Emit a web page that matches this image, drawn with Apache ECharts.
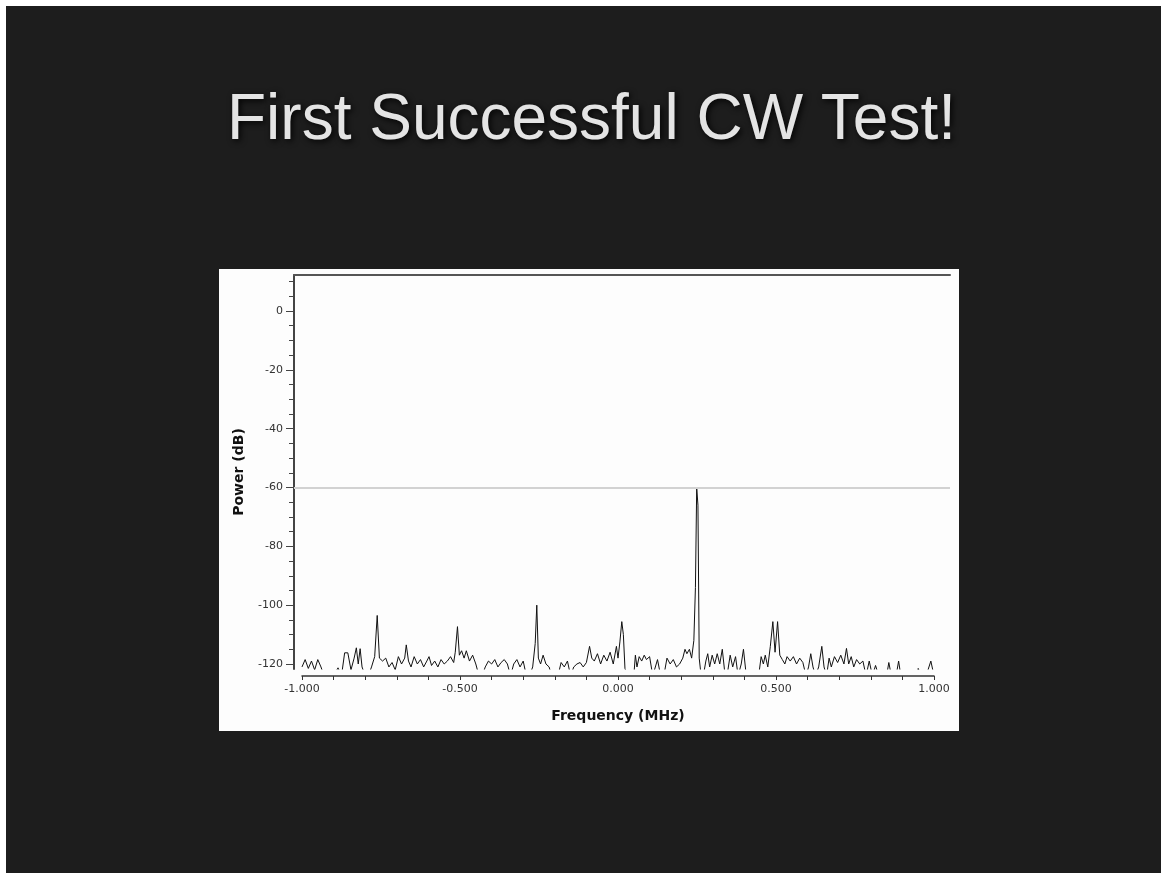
<!DOCTYPE html>
<html>
<head>
<meta charset="utf-8">
<script src="https://cdn.jsdelivr.net/npm/echarts@6.0.0/dist/echarts.min.js"></script>
<style>
    html, body { margin: 0; padding: 0; background: #fff; }
    #container { width: 1161px; height: 873px; }
</style>
</head>
<body>
<div id="container"></div>
<script>
// spectrum, frequency in MHz / power in dB
var freqMHz = [
    -1.00, -0.99, -0.98, -0.97, -0.96, -0.95, -0.94, -0.93, -0.92, -0.91,
    -0.90, -0.886, -0.875, -0.865, -0.855, -0.85, -0.845, -0.835, -0.828, -0.822,
    -0.816, -0.81, -0.80, -0.79, -0.78, -0.77, -0.762, -0.755, -0.745, -0.735,
    -0.725, -0.715, -0.705, -0.695, -0.685, -0.675, -0.67, -0.663, -0.655, -0.645,
    -0.635, -0.625, -0.615, -0.605, -0.598, -0.59, -0.58, -0.57, -0.56, -0.55,
    -0.54, -0.53, -0.52, -0.515, -0.508, -0.502, -0.495, -0.487, -0.48, -0.47,
    -0.46, -0.45, -0.44, -0.43, -0.42, -0.41, -0.40, -0.39, -0.38, -0.37,
    -0.36, -0.35, -0.34, -0.33, -0.32, -0.31, -0.30, -0.29, -0.28, -0.27,
    -0.262, -0.257, -0.252, -0.245, -0.237, -0.228, -0.218, -0.21, -0.20, -0.19,
    -0.18, -0.17, -0.16, -0.15, -0.14, -0.13, -0.12, -0.11, -0.10, -0.09,
    -0.083, -0.075, -0.065, -0.055, -0.045, -0.035, -0.025, -0.015, -0.005, 0.000,
    0.006, 0.012, 0.017, 0.022, 0.03, 0.04, 0.05, 0.055, 0.06, 0.067,
    0.075, 0.083, 0.09, 0.10, 0.11, 0.125, 0.135, 0.145, 0.155, 0.165,
    0.175, 0.185, 0.195, 0.205, 0.212, 0.218, 0.226, 0.233, 0.24, 0.245,
    0.249, 0.253, 0.257, 0.263, 0.27, 0.278, 0.284, 0.29, 0.298, 0.306,
    0.314, 0.322, 0.33, 0.337, 0.345, 0.355, 0.363, 0.372, 0.38, 0.39,
    0.397, 0.404, 0.415, 0.43, 0.445, 0.453, 0.46, 0.466, 0.474, 0.482,
    0.49, 0.497, 0.505, 0.512, 0.52, 0.528, 0.535, 0.545, 0.555, 0.565,
    0.575, 0.585, 0.595, 0.603, 0.61, 0.617, 0.625, 0.635, 0.645, 0.652,
    0.66, 0.668, 0.675, 0.685, 0.695, 0.705, 0.715, 0.723, 0.73, 0.738,
    0.746, 0.755, 0.765, 0.775, 0.785, 0.795, 0.805, 0.815, 0.825, 0.84,
    0.85, 0.857, 0.865, 0.88, 0.888, 0.895, 0.91, 0.93, 0.945, 0.95,
    0.96, 0.975, 0.99, 1.00
];
var powerDb = [
    -121, -118.5, -121.5, -119, -122, -118.5, -121, -124, -124, -124,
    -124, -121.3, -124, -116.2, -116.2, -116.5, -122, -118, -114.5, -120,
    -114.8, -121, -124, -124, -121, -117.5, -103.5, -118, -119, -118,
    -121, -119.5, -122, -117.5, -120, -118, -113.5, -119, -121, -117.5,
    -120, -118.5, -121, -119, -117.5, -120.5, -119, -121, -118.5, -120,
    -119, -117.5, -119.5, -116, -107.3, -117, -115.5, -118, -115.5, -119,
    -117, -120, -124, -124, -121, -119, -120, -118.5, -121, -119.5,
    -118.5, -120, -124, -120, -118.5, -121, -119, -124, -124, -121,
    -113, -100, -118, -120, -117, -120, -121, -124, -124, -124,
    -119.5, -121, -119, -124, -121, -120, -119.5, -121, -119.5, -114,
    -118, -119, -116.5, -120, -117, -119, -116, -120, -114, -118,
    -112.5, -105.6, -110, -121.5, -124, -124, -124, -117, -121, -117.5,
    -119, -117, -118.5, -117.5, -124, -118.5, -124, -124, -118, -120,
    -118.5, -121, -120, -118, -115, -116.5, -115, -118, -112, -94,
    -60, -66, -118, -124, -124, -119, -116.5, -121, -117, -120,
    -116.5, -120, -115, -122, -124, -117, -121, -117.5, -124, -120,
    -115, -122, -124, -124, -124, -117.5, -120, -117, -121, -114,
    -105.6, -116, -105.6, -117, -118.5, -120, -117.5, -119, -117.5, -120,
    -118, -119.5, -124, -121, -116.5, -121, -124, -121, -114, -121,
    -124, -118, -121, -117.5, -119.5, -117, -120, -114.7, -120, -117.5,
    -121, -118.5, -120, -119, -124, -119, -124, -120.5, -124, -124,
    -124, -119.5, -124, -124, -119, -124, -124, -124, -124, -121.5,
    -124, -124, -119, -124
];

var xLabelValues = [-1, -0.5, 0, 0.5, 1];
var xTickLabels = ['-1.000', '-0.500', '0.000', '0.500', '1.000'];
var xMinorTicks = [-1, -0.9, -0.8, -0.7, -0.6, -0.5, -0.4, -0.3, -0.2, -0.1, 0,
    0.1, 0.2, 0.3, 0.4, 0.5, 0.6, 0.7, 0.8, 0.9, 1];
var yLabelValues = [-120, -100, -80, -60, -40, -20, 0];
var yMinorTicks = [-120, -115, -110, -105, -100, -95, -90, -85, -80, -75, -70, -65, -60,
    -55, -50, -45, -40, -35, -30, -25, -20, -15, -10, -5, 0, 5, 10];
var markerLevel = -60;

var dom = document.getElementById("container");
var myChart = echarts.init(dom);

var points = freqMHz.map(function (f, i) {
    return [f, powerDb[i]];
});

var option = {
    animation: false,
    backgroundColor: '#1d1d1d',
    title: {
        text: 'First Successful CW Test!',
        left: 222,
        top: 84,
        textStyle: {
            fontFamily: 'Liberation Sans',
            fontSize: 64,
            fontWeight: 'normal',
            color: '#e4e4e4',
            textShadowColor: 'rgba(0,0,0,0.9)',
            textShadowBlur: 6,
            textShadowOffsetX: 2,
            textShadowOffsetY: 2
        }
    },
    graphic: [
        { type: 'rect', z: -10, shape: { x: 0, y: 0, width: 1161, height: 6 }, style: { fill: '#fff' } },
        { type: 'rect', z: -10, shape: { x: 0, y: 0, width: 6, height: 873 }, style: { fill: '#fff' } },
        { type: 'rect', z: -5, shape: { x: 219, y: 269, width: 740, height: 462 }, style: { fill: '#fdfdfd' } }
    ],
    grid: [
        { left: 294, top: 275, width: 656, height: 394 },
        { left: 302, top: 675, width: 632, height: 1 }
    ],
    xAxis: [
        {
            gridIndex: 0,
            type: 'value',
            position: 'top',
            min: -1.0253,
            max: 1.0506,
            axisLine: { show: true, onZero: false, lineStyle: { color: '#555', width: 2 } },
            axisTick: { show: false },
            axisLabel: { show: false },
            splitLine: { show: false }
        },
        {
            gridIndex: 1,
            type: 'value',
            min: -1,
            max: 1,
            axisLine: { show: true, onZero: false, lineStyle: { color: '#333', width: 1.5 } },
            axisTick: { show: true, customValues: xMinorTicks, length: 4, lineStyle: { color: '#333' } },
            axisLabel: {
                customValues: xLabelValues,
                formatter: function (v) {
                    var i = xLabelValues.indexOf(Math.round(v * 2) / 2);
                    return i >= 0 ? xTickLabels[i] : '';
                },
                color: '#333',
                fontFamily: 'DejaVu Sans',
                fontSize: 11,
                margin: 8
            },
            splitLine: { show: false },
            name: 'Frequency (MHz)',
            nameLocation: 'middle',
            nameGap: 33,
            nameTextStyle: { color: '#111', fontFamily: 'DejaVu Sans', fontWeight: 'bold', fontSize: 14 }
        }
    ],
    yAxis: [
        {
            gridIndex: 0,
            type: 'value',
            position: 'left',
            min: -121.7,
            max: 12.24,
            axisLine: { show: true, onZero: false, lineStyle: { color: '#444', width: 2 } },
            axisTick: { show: true, customValues: yLabelValues, length: 8, lineStyle: { color: '#444' } },
            axisLabel: {
                customValues: yLabelValues,
                color: '#333',
                fontFamily: 'DejaVu Sans',
                fontSize: 11,
                margin: 11
            },
            splitLine: { show: false },
            name: 'Power (dB)',
            nameLocation: 'middle',
            nameGap: 48,
            nameTextStyle: { color: '#111', fontFamily: 'DejaVu Sans', fontWeight: 'bold', fontSize: 14 }
        },
        {
            gridIndex: 0,
            type: 'value',
            position: 'left',
            min: -121.7,
            max: 12.24,
            axisLine: { show: false, onZero: false },
            axisTick: { show: true, customValues: yMinorTicks, length: 5, lineStyle: { color: '#444' } },
            axisLabel: { show: false },
            splitLine: { show: false }
        },
        { gridIndex: 1, type: 'value', show: false }
    ],
    series: [
        {
            name: 'Power',
            type: 'line',
            xAxisIndex: 0,
            yAxisIndex: 0,
            data: points,
            showSymbol: false,
            symbol: 'none',
            clip: true,
            lineStyle: { color: '#111', width: 1 },
            markLine: {
                silent: true,
                symbol: 'none',
                label: { show: false },
                lineStyle: { color: '#d2d2d2', width: 2, type: 'solid' },
                data: [{ yAxis: markerLevel }]
            }
        }
    ]
};

if (option && typeof option === "object") {
    myChart.setOption(option, true);
}
</script>
</body>
</html>
